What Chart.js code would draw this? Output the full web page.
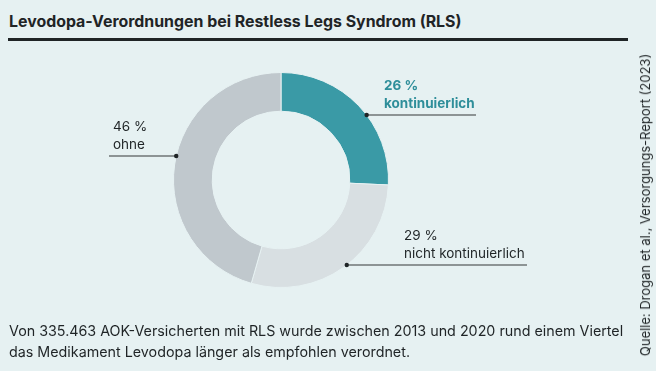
<!DOCTYPE html>
<html>
<head>
<meta charset="utf-8">
<script src="https://cdn.jsdelivr.net/npm/chart.js@4/dist/chart.umd.min.js"></script>
<style>
  html, body { margin: 0; padding: 0; background: #e6f1f2; }
  body { width: 656px; height: 371px; position: relative; overflow: hidden; font-family: Inter, "Noto Sans", sans-serif; color: #1f2426; }
  #title { position: absolute; left: 9px; top: 12px; font-size: 15.9px; font-weight: 700; letter-spacing: 0px; white-space: nowrap; }
  #rule { position: absolute; left: 8px; top: 38px; width: 620px; height: 2.5px; background: #1f2426; }
  #wrap { position: absolute; left: 0; top: 0; width: 656px; height: 371px; }
  #footer { position: absolute; left: 9px; top: 320px; font-size: 14.3px; line-height: 21px; white-space: nowrap; }
  #source { position: absolute; left: 645px; top: 205px; transform: translate(-50%, -50%) rotate(-90deg); font-size: 13px; white-space: nowrap; }
</style>
</head>
<body>
<div id="title">Levodopa-Verordnungen bei Restless Legs Syndrom (RLS)</div>
<div id="rule"></div>
<div id="wrap"><canvas id="c" width="656" height="371"></canvas></div>
<div id="footer">Von 335.463 AOK-Versicherten mit RLS wurde zwischen 2013 und 2020 rund einem Viertel<br>das Medikament Levodopa länger als empfohlen verordnet.</div>
<div id="source">Quelle: Drogan et al., Versorgungs-Report (2023)</div>
<script>
// ---- data ----
const categories = ["kontinuierlich", "nicht kontinuierlich", "ohne"];
const shares = [26, 29, 46];
const shareLabels = ["26 %", "29 %", "46 %"];
const colors = ["#3a9aa6", "#d8dfe2", "#c0c8cd"];

// ---- label layout (annotation positions, not data) ----
const labelLayout = [
  { frac: 0.57, side: "right", textX: 384, lineEnd: 476, color: "#2e8e9a", bold: true },
  { frac: 0.48, side: "right", textX: 404, lineEnd: 527, color: "#1f2426", bold: false },
  { frac: 0.53, side: "left",  textX: 113, lineEnd: 109, color: "#1f2426", bold: false }
];

const leaderPlugin = {
  id: "leaders",
  afterDatasetsDraw(chart) {
    const ctx = chart.ctx;
    const meta = chart.getDatasetMeta(0);
    meta.data.forEach((arc, i) => {
      const p = arc.getProps(["x", "y", "startAngle", "endAngle", "outerRadius"], true);
      const L = labelLayout[i];
      const a = p.startAngle + L.frac * (p.endAngle - p.startAngle);
      const dx = p.x + Math.cos(a) * p.outerRadius;
      const dy = p.y + Math.sin(a) * p.outerRadius;
      ctx.save();
      ctx.strokeStyle = "#6f7476";
      ctx.lineWidth = 1.5;
      ctx.beginPath();
      ctx.moveTo(dx, dy);
      ctx.lineTo(L.lineEnd, dy);
      ctx.stroke();
      ctx.fillStyle = "#1f2426";
      ctx.beginPath();
      ctx.arc(dx, dy, 2.2, 0, Math.PI * 2);
      ctx.fill();
      ctx.fillStyle = L.color;
      ctx.font = (L.bold ? "700 " : "400 ") + "13.5px Inter, 'Noto Sans', sans-serif";
      ctx.textAlign = "left";
      ctx.textBaseline = "middle";
      ctx.fillText(shareLabels[i], L.textX, dy - 29);
      ctx.fillText(categories[i], L.textX, dy - 11);
      ctx.restore();
    });
  }
};

new Chart(document.getElementById("c"), {
  type: "doughnut",
  data: {
    labels: categories,
    datasets: [{
      data: shares,
      backgroundColor: colors,
      borderColor: "#e6f1f2",
      borderWidth: 1,
      hoverOffset: 0
    }]
  },
  options: {
    responsive: false,
    animation: false,
    cutout: "64%",
    layout: { padding: { left: 173, right: 267, top: 72, bottom: 83 } },
    plugins: { legend: { display: false }, tooltip: { enabled: false }, title: { display: false } }
  },
  plugins: [leaderPlugin]
});
</script>
</body>
</html>
